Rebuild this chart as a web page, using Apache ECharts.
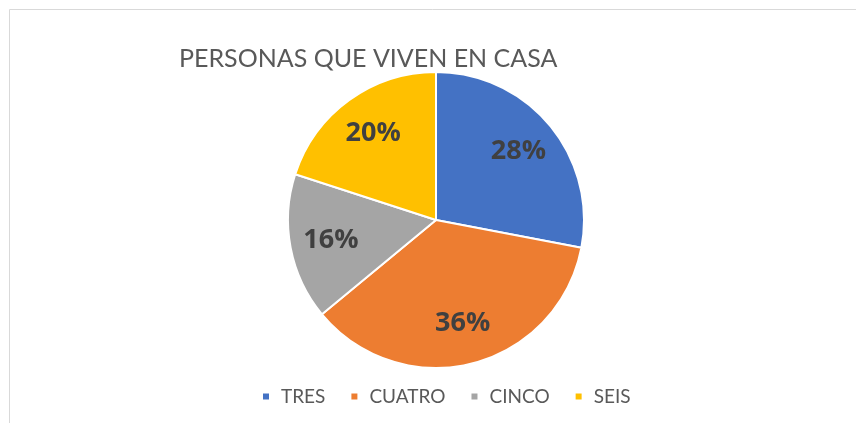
<!DOCTYPE html>
<html><head><meta charset="utf-8">
<script src="https://cdn.jsdelivr.net/npm/echarts@6/dist/echarts.min.js"></script>
<style>html,body{margin:0;padding:0;background:#fff}#c{width:856px;height:423px}</style>
</head><body><div id="c"></div>
<script>
const title = 'PERSONAS QUE VIVEN EN CASA';
const categories = ['TRES', 'CUATRO', 'CINCO', 'SEIS'];
const values = [28, 36, 16, 20];
const colors = ['#4472C4', '#ED7D31', '#A5A5A5', '#FFC000'];

const data = categories.map((n, i) => ({ name: n, value: values[i], itemStyle: { color: colors[i] } }));
const chart = echarts.init(document.getElementById('c'), null, { renderer: 'canvas' });
chart.setOption({
  animation: false,
  color: colors,
  title: {
    text: title, left: 174, top: 41,
    textStyle: { fontFamily: 'Lato', fontSize: 25, fontWeight: 'normal', color: '#595959' }
  },
  legend: {
    data: categories, left: 256, top: 382, itemWidth: 8, itemHeight: 8, itemGap: 24, icon: 'rect',
    textStyle: { fontFamily: 'Lato', fontSize: 19, color: '#595959', padding: [0, 0, 0, 6] }
  },
  graphic: [
    { type: 'line', shape: { x1: 9.5, y1: 9.5, x2: 856, y2: 9.5 }, style: { stroke: '#D9D9D9', lineWidth: 1 } },
    { type: 'line', shape: { x1: 9.5, y1: 9.5, x2: 9.5, y2: 423 }, style: { stroke: '#D9D9D9', lineWidth: 1 } }
  ],
  series: [
    {
      type: 'pie', center: [436, 220], radius: [0, 148], startAngle: 90, clockwise: true,
      data: data, label: { show: false }, labelLine: { show: false },
      itemStyle: { borderColor: '#fff', borderWidth: 2 }, emphasis: { disabled: true }
    },
    {
      type: 'pie', center: [436, 220], radius: [60, 148], startAngle: 90, clockwise: true, silent: true,
      data: categories.map((n, i) => ({ name: n, value: values[i] })),
      itemStyle: { color: 'rgba(0,0,0,0)' },
      label: { show: true, position: 'inside', formatter: p => p.value + '%',
        fontFamily: 'Open Sans', fontWeight: 'bold', fontSize: 27, color: '#404040' },
      labelLine: { show: false }, emphasis: { disabled: true }, legendHoverLink: false
    }
  ]
});
</script></body></html>
